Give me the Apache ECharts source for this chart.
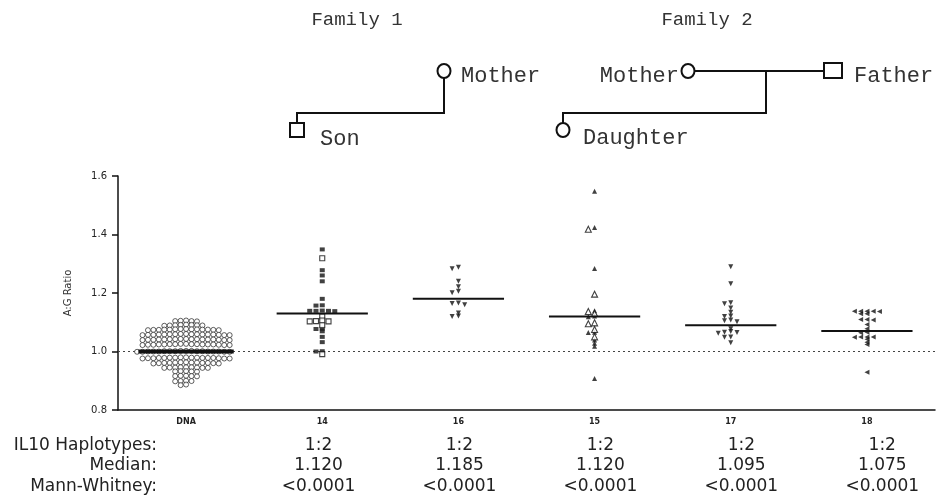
<!DOCTYPE html>
<html><head><meta charset="utf-8">
<script src="https://cdn.jsdelivr.net/npm/echarts@6/dist/echarts.min.js"></script>
<style>html,body{margin:0;padding:0;background:#fff}#c{width:940px;height:503px}</style>
</head><body><div id="c"></div>
<script>
// ---------- data ----------
const categories = ['DNA', '14', '16', '15', '17', '18'];

const dnaValues = [
  1.106, 1.104, 1.105, 1.103, 1.104,
  1.092, 1.090, 1.089, 1.091, 1.090, 1.088, 1.091, 1.089,
  1.077, 1.075, 1.074, 1.076, 1.075, 1.073, 1.076, 1.074, 1.075, 1.077, 1.073, 1.075, 1.076, 1.074,
  1.060, 1.058, 1.057, 1.059, 1.058, 1.056, 1.059, 1.057, 1.058, 1.060, 1.056, 1.058, 1.059, 1.057, 1.058, 1.056, 1.059,
  1.043, 1.041, 1.040, 1.042, 1.041, 1.039, 1.042, 1.040, 1.041, 1.043, 1.039, 1.041, 1.042, 1.040, 1.041, 1.039, 1.042,
  1.026, 1.024, 1.023, 1.025, 1.024, 1.022, 1.025, 1.023, 1.024, 1.026, 1.022, 1.024, 1.025, 1.023, 1.024, 1.022, 1.025,
  1.002, 1.000, 1.001, 0.999, 1.000, 1.002, 0.999, 1.001, 1.000, 1.000, 1.001, 0.999, 1.002, 1.000, 1.001, 0.999, 1.000, 1.001,
  0.980, 0.978, 0.977, 0.979, 0.978, 0.976, 0.979, 0.977, 0.978, 0.980, 0.976, 0.978, 0.979, 0.977, 0.978, 0.976, 0.979,
  0.963, 0.961, 0.960, 0.962, 0.961, 0.959, 0.962, 0.960, 0.961, 0.963, 0.959, 0.961, 0.962,
  0.946, 0.945, 0.944, 0.946, 0.945, 0.944, 0.945, 0.946, 0.944,
  0.933, 0.932, 0.931, 0.932, 0.933,
  0.917, 0.916, 0.915, 0.916, 0.917,
  0.900, 0.899, 0.898, 0.899,
  0.887, 0.885
];

const g14Filled = [1.349, 1.278, 1.260, 1.240, 1.180, 1.158, 1.157, 1.140, 1.139, 1.139, 1.138, 1.139,
                   1.078, 1.077, 1.069, 1.050, 1.032, 1.001, 1.000];
const g14Open   = [1.319, 1.120, 1.106, 1.104, 1.103, 1.103, 1.090, 0.991];

const g16Filled = [1.288, 1.283, 1.240, 1.221, 1.206, 1.201, 1.166, 1.164, 1.160, 1.132, 1.121, 1.120];

const g15Filled = [1.548, 1.424, 1.284, 1.139, 1.121, 1.119, 1.066, 1.065, 1.039, 1.028, 1.018, 0.908];
const g15Open   = [1.418, 1.196, 1.137, 1.130, 1.098, 1.095, 1.075, 1.050];

const g17Filled = [1.290, 1.232, 1.167, 1.163, 1.149, 1.134, 1.121, 1.120, 1.108, 1.105, 1.102,
                   1.078, 1.068, 1.066, 1.065, 1.062, 1.050, 1.049, 1.030];

const g18Filled = [1.138, 1.138, 1.138, 1.137, 1.138, 1.129, 1.129, 1.109, 1.109, 1.108, 1.092,
                   1.078, 1.066, 1.064, 1.050, 1.050, 1.049, 1.050, 1.042, 1.032, 1.024, 0.929];

const medianLine   = [1.00, 1.13, 1.18, 1.12, 1.09, 1.07];
const haplotypes   = ['', '1:2', '1:2', '1:2', '1:2', '1:2'];
const medianText   = ['', '1.120', '1.185', '1.120', '1.095', '1.075'];
const mannWhitney  = ['', '<0.0001', '<0.0001', '<0.0001', '<0.0001', '<0.0001'];
const rowLabels    = ['IL10 Haplotypes:', 'Median:', 'Mann-Whitney:'];

// ---------- swarm layout (horizontal spread of coincident values) ----------
function swarm(groupIndex, filled, open, step) {
  const pts = filled.map(v => ({ v, open: false })).concat(open.map(v => ({ v, open: true })));
  pts.sort((a, b) => b.v - a.v);
  const out = { filled: [], open: [] };
  let rowStart = null, k = 0;
  pts.forEach(p => {
    if (rowStart === null || rowStart - p.v > 0.007) { rowStart = p.v; k = 0; }
    const slot = k === 0 ? 0 : (k % 2 === 1 ? -(k + 1) / 2 : k / 2);
    k++;
    (p.open ? out.open : out.filled).push([groupIndex + slot * step, p.v]);
  });
  return out;
}

const sDNA = swarm(0, dnaValues, [], 0.04);
const s14 = swarm(1, g14Filled, g14Open, 0.046);
const s16 = swarm(2, g16Filled, [], 0.046);
const s15 = swarm(3, g15Filled, g15Open, 0.046);
const s17 = swarm(4, g17Filled, [], 0.046);
const s18 = swarm(5, g18Filled, [], 0.046);

const FONT = 'DejaVu Sans, Liberation Sans, Arial, sans-serif';
const MONO = 'Liberation Mono, Courier New, monospace';

const chart = echarts.init(document.getElementById('c'), null, { renderer: 'canvas' });

const blk = '#111';
function sc(data, symbol, rotate, size, open, z) {
  return {
    type: 'scatter', xAxisIndex: 1, yAxisIndex: 0, data, symbol, symbolRotate: rotate, symbolSize: size,
    z: z || 3, silent: true,
    itemStyle: open ? { color: '#fff', borderColor: blk, borderWidth: 1.1 } : { color: blk }
  };
}

const option = {
  animation: false,
  backgroundColor: '#fff',
  grid: { left: 118, right: 5, top: 176, bottom: 93 },
  xAxis: [
    {
      type: 'category', data: categories, boundaryGap: true,
      axisLine: { onZero: false, lineStyle: { color: '#111', width: 1.5 } },
      axisTick: { show: false },
      axisLabel: { fontFamily: FONT, fontSize: 8, fontWeight: 'bold', color: '#222', margin: 8 },
      splitLine: { show: false }
    },
    { type: 'value', min: -0.5, max: 5.5, show: false, splitLine: { show: false } }
  ],
  yAxis: {
    type: 'value', min: 0.8, max: 1.6, interval: 0.2,
    name: 'A:G Ratio', nameLocation: 'middle', nameGap: 45,
    nameTextStyle: { fontFamily: FONT, fontSize: 10, color: '#333' },
    axisLine: { show: true, onZero: false, lineStyle: { color: '#111', width: 1.5 } },
    axisTick: { show: true, inside: false, length: 6, lineStyle: { color: '#111', width: 1.5 } },
    axisLabel: { fontFamily: FONT, fontSize: 10, color: '#222', margin: 11, formatter: v => v.toFixed(1) },
    splitLine: { show: false }
  },
  series: [
    {
      type: 'scatter', xAxisIndex: 1, yAxisIndex: 0, data: sDNA.filled, symbol: 'circle', symbolSize: 5,
      z: 3, silent: true,
      itemStyle: { color: '#fff', borderColor: '#222', borderWidth: 0.9 },
      markLine: {
        silent: true, symbol: 'none', label: { show: false }, z: 1,
        lineStyle: { type: [2, 3], color: '#444', width: 1 },
        data: [{ yAxis: 1.0 }]
      }
    },
    sc(s14.filled, 'rect', 0, [5, 4], false),
    sc(s14.open, 'rect', 0, 5, true),
    sc(s16.filled, 'triangle', 180, 5, false),
    sc(s15.filled, 'triangle', 0, 5, false),
    sc(s15.open, 'triangle', 0, 6, true),
    sc(s17.filled, 'triangle', 180, 5, false),
    sc(s18.filled, 'triangle', 90, 5, false),
    {
      type: 'custom', xAxisIndex: 1, yAxisIndex: 0, z: 6, silent: true,
      data: medianLine.map((m, i) => [i, m]),
      renderItem: (params, api) => {
        const i = api.value(0), m = api.value(1);
        const half = i === 0 ? 0.35 : 0.335;
        const p1 = api.coord([i - half, m]), p2 = api.coord([i + half, m]);
        return {
          type: 'line',
          shape: { x1: p1[0], y1: p1[1], x2: p2[0], y2: p2[1] },
          style: { stroke: '#111', lineWidth: i === 0 ? 4 : 2 }
        };
      }
    }
  ]
};
chart.setOption(option);

// ---------- table under the axis + pedigree drawing ----------
const g = [];
const rowY = [446, 466, 487];
const rows = [haplotypes, medianText, mannWhitney];
const tfont = '17px ' + FONT;
rowLabels.forEach((t, r) => {
  g.push({ type: 'text', x: 157, y: rowY[r], style: { text: t, font: tfont, fill: '#222', textAlign: 'right', textVerticalAlign: 'middle' } });
});
categories.forEach((c, i) => {
  const px = chart.convertToPixel({ xAxisIndex: 0 }, c);
  const tx = px * 1.035 - 15;   // table columns are slightly wider-spaced than the axis bands
  rows.forEach((arr, r) => {
    if (!arr[i]) return;
    g.push({ type: 'text', x: tx, y: rowY[r], style: { text: arr[i], font: tfont, fill: '#222', textAlign: 'center', textVerticalAlign: 'middle' } });
  });
});

const titleFont = '19px ' + MONO;
const labelFont = '22px ' + MONO;
const txt = (t, x, y, align, font) => ({ type: 'text', x, y, style: { text: t, font: font || labelFont, fill: '#333', textAlign: align || 'left', textVerticalAlign: 'middle' } });
const stroke = { stroke: '#111', lineWidth: 2, fill: '#fff' };
const lineStyle = { stroke: '#111', lineWidth: 2, fill: null };
g.push(txt('Family 1', 357, 20, 'center', titleFont));
g.push(txt('Family 2', 707, 20, 'center', titleFont));
// family 1
g.push({ type: 'polyline', shape: { points: [[444, 78], [444, 113], [297, 113], [297, 123]] }, style: lineStyle });
g.push({ type: 'ellipse', shape: { cx: 444, cy: 71, rx: 6.5, ry: 7 }, style: stroke });
g.push({ type: 'rect', shape: { x: 290, y: 123, width: 14, height: 14 }, style: stroke });
g.push(txt('Mother', 461, 76));
g.push(txt('Son', 320, 139));
// family 2
g.push({ type: 'polyline', shape: { points: [[695, 71], [824, 71]] }, style: lineStyle });
g.push({ type: 'polyline', shape: { points: [[766, 71], [766, 113], [563, 113], [563, 123]] }, style: lineStyle });
g.push({ type: 'ellipse', shape: { cx: 688, cy: 71, rx: 6.5, ry: 7 }, style: stroke });
g.push({ type: 'rect', shape: { x: 824, y: 63, width: 18, height: 15 }, style: stroke });
g.push({ type: 'ellipse', shape: { cx: 563, cy: 130, rx: 6.5, ry: 7 }, style: stroke });
g.push(txt('Mother', 679, 76, 'right'));
g.push(txt('Father', 854, 76));
g.push(txt('Daughter', 583, 138));

chart.setOption({ graphic: { elements: g } });
</script>
</body></html>
